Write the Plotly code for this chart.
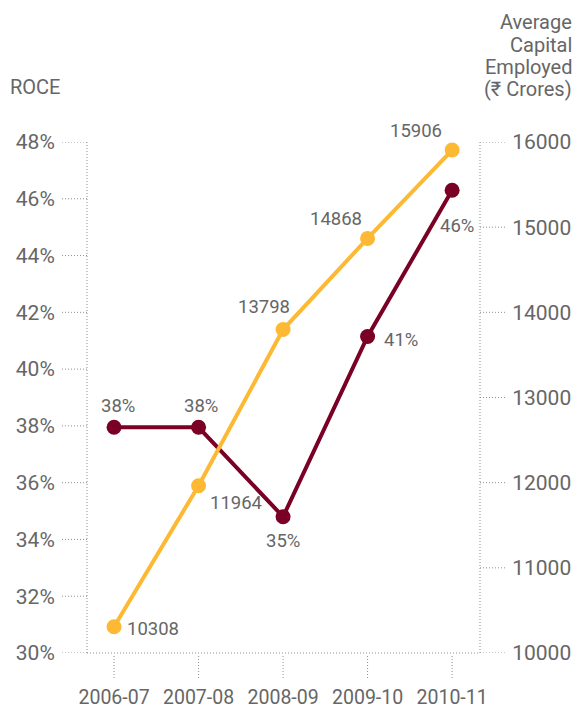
import plotly.graph_objects as go

years = ["2006-07", "2007-08", "2008-09", "2009-10", "2010-11"]
roce = [37.95, 37.95, 34.8, 41.15, 46.3]
capital = [10308, 11964, 13798, 14868, 15906]
roce_ticks = [30, 32, 34, 36, 38, 40, 42, 44, 46, 48]
cap_ticks = [10000, 11000, 12000, 13000, 14000, 15000, 16000]

YELLOW = "#FDB933"
MAROON = "#7A0026"
GREY = "#666666"
DOT = "#8f8f8f"
FONT = "Roboto"

# label offsets in pixels (styling)
cap_off = [(39, -2), (37, -17), (-19, 23), (-32, 19), (-36, 19)]
roce_off = [(4, 21), (2, 21), (0, -24), (33, -4), (5, -36)]

xs = list(range(len(years)))

fig = go.Figure()
fig.add_trace(go.Scatter(
    x=xs, y=roce, mode="lines+markers",
    line=dict(color=MAROON, width=4), marker=dict(color=MAROON, size=15),
    cliponaxis=False, showlegend=False, hoverinfo="skip"))
fig.add_trace(go.Scatter(
    x=xs, y=capital, yaxis="y2", mode="lines+markers",
    line=dict(color=YELLOW, width=4), marker=dict(color=YELLOW, size=15),
    cliponaxis=False, showlegend=False, hoverinfo="skip"))

W = 393.0
H = 511.0
shapes = []
dotline = dict(color=DOT, width=1, dash="1px,2px")
shapes.append(dict(type="line", xref="paper", yref="paper", x0=0, x1=0, y0=0, y1=1, line=dotline))
shapes.append(dict(type="line", xref="paper", yref="paper", x0=1, x1=1, y0=0, y1=1, line=dotline))
shapes.append(dict(type="line", xref="paper", yref="paper", x0=0, x1=1, y0=0, y1=0, line=dotline))
for v in roce_ticks:
    shapes.append(dict(type="line", xref="paper", yref="y", x0=-25 / W, x1=0, y0=v, y1=v, line=dotline))
for v in cap_ticks:
    shapes.append(dict(type="line", xref="paper", yref="y2", x0=1, x1=1 + 25 / W, y0=v, y1=v, line=dotline))
for i in xs:
    shapes.append(dict(type="line", xref="x", yref="paper", x0=i, x1=i, y0=-3 / H, y1=-27 / H, line=dotline))

lab_font = dict(family=FONT, size=18.5, color=GREY)
annotations = []
for i, v in enumerate(capital):
    annotations.append(dict(text=str(v), x=xs[i], y=v, xref="x", yref="y2",
                            xshift=cap_off[i][0], yshift=cap_off[i][1],
                            showarrow=False, xanchor="center", yanchor="middle", font=lab_font))
for i, v in enumerate(roce):
    annotations.append(dict(text=f"{v:.0f}%", x=xs[i], y=v, xref="x", yref="y",
                            xshift=roce_off[i][0], yshift=roce_off[i][1],
                            showarrow=False, xanchor="center", yanchor="middle", font=lab_font))

title_font = dict(family=FONT, size=20, color=GREY)
annotations.append(dict(text="ROCE", xref="paper", yref="paper", x=(8 - 87) / W, y=1 + (142 - 87) / H,
                        xanchor="left", yanchor="middle", showarrow=False, font=title_font))
right_lines = ["Average", "Capital", "Employed", "(₹ Crores)"]
right_y = [22, 45, 67, 89]
for t, yy in zip(right_lines, right_y):
    annotations.append(dict(text=t, xref="paper", yref="paper", x=(574 - 87) / W, y=1 + (142 - yy) / H,
                            xanchor="right", yanchor="middle", showarrow=False, font=title_font))

fig.update_layout(
    width=575, height=709,
    margin=dict(l=87, r=95, t=142, b=56, autoexpand=False),
    paper_bgcolor="white", plot_bgcolor="white",
    font=dict(family=FONT, size=20, color=GREY),
    xaxis=dict(range=[-0.32, 4.33], tickmode="array", tickvals=xs, ticktext=years,
               showgrid=False, zeroline=False, showline=False, automargin=False,
               ticks="outside", ticklen=27, tickcolor="rgba(0,0,0,0)",
               tickfont=dict(family=FONT, size=19.5, color=GREY)),
    yaxis=dict(range=[30, 48], tickmode="array", tickvals=roce_ticks,
               ticktext=[f"{v}%" for v in roce_ticks], automargin=False,
               showgrid=False, zeroline=False, showline=False,
               ticks="outside", ticklen=27, tickcolor="rgba(0,0,0,0)",
               tickfont=dict(family=FONT, size=21, color=GREY)),
    yaxis2=dict(range=[10000, 16000], tickmode="array", tickvals=cap_ticks,
                ticktext=[str(v) for v in cap_ticks], overlaying="y", side="right",
                showgrid=False, zeroline=False, showline=False, automargin=False,
                ticks="outside", ticklen=27, tickcolor="rgba(0,0,0,0)",
                tickfont=dict(family=FONT, size=21, color=GREY)),
    shapes=shapes,
    annotations=annotations,
)

fig.write_html("out.html", config={"displayModeBar": False},
               post_script="document.body.style.margin='0';")
